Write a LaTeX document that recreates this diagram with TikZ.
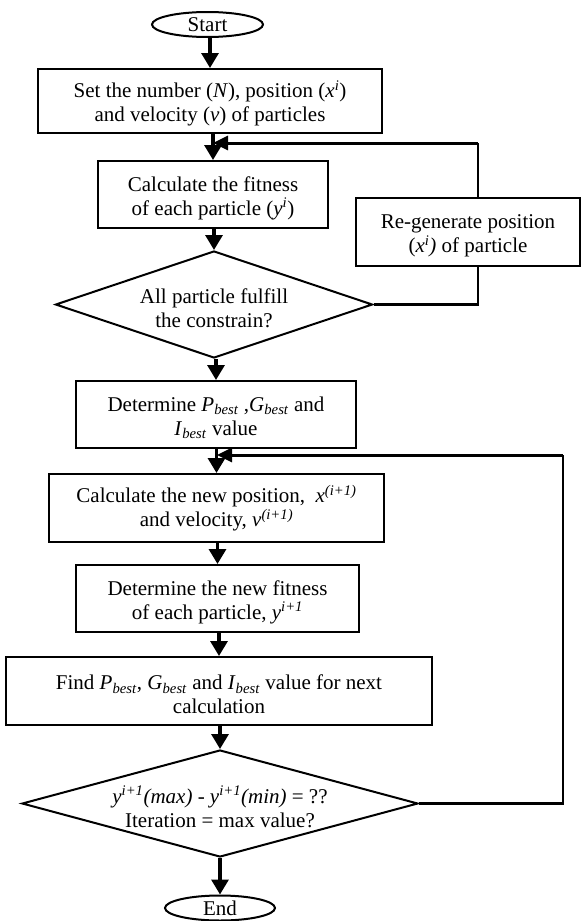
\documentclass[tikz,border=0pt]{standalone}
\usepackage{fontspec}
\setmainfont{Liberation Serif}
\usetikzlibrary{shapes.geometric,arrows.meta}
\newcommand\flowfont{\fontsize{21}{24}\selectfont}
\newcommand\ita[1]{\textit{#1}}
\newcommand\sps[1]{\textsuperscript{\textit{#1}}}
\newcommand\sbs[1]{\textsubscript{\textit{#1}}}
\newcommand\tstrut{\rule{0pt}{22pt}}
\tikzset{
  proc/.style={draw, line width=2pt, rectangle, align=center, inner sep=0pt, font=\flowfont},
  term/.style={draw, line width=2pt, ellipse, inner sep=0pt, font=\flowfont},
  decide/.style={draw, line width=2pt, diamond, align=center, inner sep=0pt, font=\flowfont},
  arr/.style={line width=3.2pt, -{Triangle[length=15pt,width=17pt]}},
  plainline/.style={line width=2.2pt},
  fbarr/.style={line width=3pt, -{Triangle[length=15pt,width=14pt]}}
}
\begin{document}
\begin{tikzpicture}[x=1pt,y=-1pt]
\useasboundingbox (0,0) rectangle (588,921);
\node[term, minimum width=111pt, minimum height=25pt] (start) at (207.5,24.5) {Start};
\node[proc, minimum width=344pt, minimum height=64pt] (box1) at (210,101)
  {\tstrut Set the number (\ita{N}), position (\ita{x}\sps{i})\\and velocity (\ita{v}) of particles};
\node[proc, minimum width=230pt, minimum height=67pt] (box2) at (213,194.5)
  {\tstrut Calculate the fitness\\of each particle (\ita{y}\sps{i})};
\node[proc, minimum width=224pt, minimum height=68pt] (regen) at (468,232)
  {\tstrut Re-generate position\\(\ita{x}\sps{i}\ita{)} of particle};
\node[decide, aspect=2.96, minimum width=317pt, minimum height=107pt] (d1) at (214,304.5)
  {\tstrut All particle fulfill\\the constrain?};
\node[proc, minimum width=280pt, minimum height=67pt] (box3) at (216,414.5)
  {\tstrut Determine \ita{P}\sbs{best} ,\ita{G}\sbs{best} and\\\ita{I}\sbs{best} value};
\node[proc, minimum width=335pt, minimum height=68pt] (box4) at (216.5,508)
  {Calculate the new position,\ \ \ita{x}\sps{(i+1)}\\and velocity, \ita{v}\sps{(i+1)}};
\node[proc, minimum width=283pt, minimum height=67pt] (box5) at (217.5,598.5)
  {\tstrut Determine the new fitness\\of each particle, \ita{y}\sps{i+1}};
\node[proc, minimum width=426pt, minimum height=68pt] (box6) at (219,691)
  {\tstrut Find \ita{P}\sbs{best}, \ita{G}\sbs{best} and \ita{I}\sbs{best} value for next\\calculation};
\node[decide, aspect=3.7, minimum width=396pt, minimum height=107pt] (d2) at (220,803.5)
  {\fontsize{21}{21}\selectfont\rule{0pt}{24pt}\ita{y}\sps{i+1}\ita{(max) - y}\sps{i+1}\ita{(min)} = ??\\Iteration = max value?};
\node[term, minimum width=110pt, minimum height=25pt] (end) at (220,908) {End};

\coordinate (j1) at (213,143);
\coordinate (c1) at (478,143);
\coordinate (j2) at (217,455);
\coordinate (c2) at (563,455);

\draw[arr] (start.south -| box1.north) -- (box1.north);
\draw[arr] (box1.south -| box2.north) -- (box2.north);
\draw[arr] (box2.south -| d1.north) -- (d1.north);
\draw[arr] (d1.south -| box3.north) -- (box3.north);
\draw[arr] (box3.south -| box4.north) -- (box4.north);
\draw[arr] (box4.south -| box5.north) -- (box5.north);
\draw[arr] (box5.south -| box6.north) -- (box6.north);
\draw[arr] (box6.south -| d2.north) -- (d2.north);
\draw[arr] (d2.south -| end.north) -- (end.north);

\draw[plainline] (d1.east) -| (regen.south -| c1);
\draw[plainline] (regen.north -| c1) -- (c1);
\draw[fbarr] (c1) -- (j1);
\draw[plainline] (d2.east) -| (c2);
\draw[fbarr] (c2) -- (j2);
\end{tikzpicture}
\end{document}
